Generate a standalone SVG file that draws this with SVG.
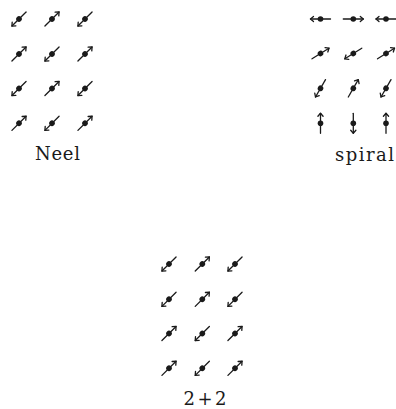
<svg xmlns="http://www.w3.org/2000/svg" xmlns:xlink="http://www.w3.org/1999/xlink" width="396" height="409" viewBox="0 0 396 409">
<style>
.ln{stroke:#1a1a1a;stroke-width:1.3;fill:none;stroke-linecap:round;stroke-linejoin:round}
.dot{fill:#1a1a1a}
.lbl{font-family:"DejaVu Serif","Liberation Serif",serif;font-size:18px;fill:#1a1a1a}
</style>
<defs>
<g id="spin">
<line class="ln" x1="-10" y1="0" x2="10" y2="0"/>
<polyline class="ln" points="7,-2.6 10,0 7,2.6"/>
<circle class="dot" cx="0" cy="0" r="2.8"/>
</g>
</defs>
<rect width="396" height="409" fill="#ffffff"/>
<g id="neel">
<use id="n11" xlink:href="#spin" transform="translate(19,19) rotate(135)"/>
<use id="n12" xlink:href="#spin" transform="translate(52,19) rotate(-45)"/>
<use id="n13" xlink:href="#spin" transform="translate(85,19) rotate(135)"/>
<use id="n21" xlink:href="#spin" transform="translate(19,54) rotate(-45)"/>
<use id="n22" xlink:href="#spin" transform="translate(52,54) rotate(135)"/>
<use id="n23" xlink:href="#spin" transform="translate(85,54) rotate(-45)"/>
<use id="n31" xlink:href="#spin" transform="translate(19,88.5) rotate(135)"/>
<use id="n32" xlink:href="#spin" transform="translate(52,88.5) rotate(-45)"/>
<use id="n33" xlink:href="#spin" transform="translate(85,88.5) rotate(135)"/>
<use id="n41" xlink:href="#spin" transform="translate(19,123.3) rotate(-45)"/>
<use id="n42" xlink:href="#spin" transform="translate(52,123.3) rotate(135)"/>
<use id="n43" xlink:href="#spin" transform="translate(85,123.3) rotate(-45)"/>
<text class="lbl" x="35" y="160" textLength="45" lengthAdjust="spacing">Neel</text>
</g>
<g id="spiral">
<use id="s11" xlink:href="#spin" transform="translate(320.5,19) rotate(180)"/>
<use id="s12" xlink:href="#spin" transform="translate(353.3,19) rotate(0)"/>
<use id="s13" xlink:href="#spin" transform="translate(386,19) rotate(180)"/>
<use id="s21" xlink:href="#spin" transform="translate(320.5,53.5) rotate(-32)"/>
<use id="s22" xlink:href="#spin" transform="translate(353.3,53.5) rotate(148)"/>
<use id="s23" xlink:href="#spin" transform="translate(386,53.5) rotate(-32)"/>
<use id="s31" xlink:href="#spin" transform="translate(320.5,88.3) rotate(120)"/>
<use id="s32" xlink:href="#spin" transform="translate(353.3,88.3) rotate(-60)"/>
<use id="s33" xlink:href="#spin" transform="translate(386,88.3) rotate(120)"/>
<use id="s41" xlink:href="#spin" transform="translate(320.5,123.3) rotate(-90)"/>
<use id="s42" xlink:href="#spin" transform="translate(353.3,123.3) rotate(90)"/>
<use id="s43" xlink:href="#spin" transform="translate(386,123.3) rotate(-90)"/>
<text class="lbl" x="335" y="161" textLength="59" lengthAdjust="spacing">spiral</text>
</g>
<g id="twoplustwo">
<use id="t11" xlink:href="#spin" transform="translate(169,264) rotate(135)"/>
<use id="t12" xlink:href="#spin" transform="translate(202.3,264) rotate(-45)"/>
<use id="t13" xlink:href="#spin" transform="translate(235,264) rotate(135)"/>
<use id="t21" xlink:href="#spin" transform="translate(169,299.3) rotate(135)"/>
<use id="t22" xlink:href="#spin" transform="translate(202.3,299.3) rotate(-45)"/>
<use id="t23" xlink:href="#spin" transform="translate(235,299.3) rotate(135)"/>
<use id="t31" xlink:href="#spin" transform="translate(169,333.5) rotate(-45)"/>
<use id="t32" xlink:href="#spin" transform="translate(202.3,333.5) rotate(135)"/>
<use id="t33" xlink:href="#spin" transform="translate(235,333.5) rotate(-45)"/>
<use id="t41" xlink:href="#spin" transform="translate(169,368.3) rotate(-45)"/>
<use id="t42" xlink:href="#spin" transform="translate(202.3,368.3) rotate(135)"/>
<use id="t43" xlink:href="#spin" transform="translate(235,368.3) rotate(-45)"/>
<text class="lbl" x="183.5" y="405" font-size="19" textLength="43" lengthAdjust="spacing">2+2</text>
</g>
</svg>
